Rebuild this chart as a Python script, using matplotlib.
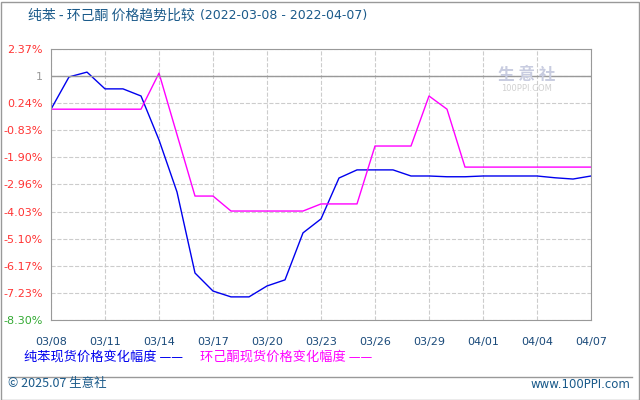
import matplotlib
matplotlib.use("Agg")
import matplotlib.pyplot as plt

plt.rcParams['font.family'] = ['Noto Sans CJK SC', 'DejaVu Sans']

days = list(range(31))
benzene = [0.0, 1.27, 1.46, 0.80, 0.80, 0.52, -1.21, -3.26, -6.45, -7.16, -7.39, -7.39,
           -6.96, -6.72, -4.87, -4.32, -2.71, -2.39, -2.39, -2.39, -2.63, -2.63, -2.66,
           -2.66, -2.63, -2.63, -2.63, -2.63, -2.70, -2.75, -2.63]
cyclohexanone = [0.0, 0.0, 0.0, 0.0, 0.0, 0.0, 1.42, -1.0, -3.42, -3.42, -4.01, -4.01,
                 -4.01, -4.01, -4.01, -3.73, -3.73, -3.73, -1.45, -1.45, -1.45, 0.52, 0.0,
                 -2.28, -2.28, -2.28, -2.28, -2.28, -2.28, -2.28, -2.28]
xlabels = ['03/08', '03/11', '03/14', '03/17', '03/20', '03/23', '03/26', '03/29', '04/01', '04/04', '04/07']
ylabels = ['2.37%', '1', '0.24%', '-0.83%', '-1.90%', '-2.96%', '-4.03%', '-5.10%', '-6.17%', '-7.23%', '-8.30%']
yvals = [2.37, 1.30, 0.24, -0.83, -1.90, -2.96, -4.03, -5.10, -6.17, -7.23, -8.30]
ycolors = ['#ff3333', '#999999'] + ['#ff3333'] * 8 + ['#33aa33']

fig = plt.figure(figsize=(6.4, 4.0), dpi=100)
ax = fig.add_axes([51/640, 1-320/400, 540/640, 271/400])
ax.plot(days, benzene, color='#0000ee', lw=1)
ax.plot(days, cyclohexanone, color='#ff00ff', lw=1)
ax.set_xlim(0, 30)
ax.set_ylim(-8.30, 2.37)
ax.set_xticks(range(0, 31, 3))
ax.set_xticklabels(xlabels, fontsize=8, color='#1a4a7a', family=['DejaVu Sans'])
ax.set_yticks(yvals)
ax.set_yticklabels(ylabels, fontsize=8, family=['DejaVu Sans'])
for t, c in zip(ax.get_yticklabels(), ycolors):
    t.set_color(c)
ax.tick_params(length=0, pad=6)
ax.tick_params(axis='x', pad=12)
ax.grid(True, ls='--', color='#cccccc', lw=0.8)
ax.axhline(1.30, color='#999999', lw=1)
for s in ax.spines.values():
    s.set_color('#999999')
ax.text(0.88, 0.905, '生 意 社', transform=ax.transAxes, fontsize=12, color='#c8cce0',
        ha='center', va='center', weight='bold')
ax.text(0.88, 0.855, '100PPI.COM', transform=ax.transAxes, fontsize=6, color='#d0d0d0',
        ha='center', va='center', family=['DejaVu Sans'])

fig.text(28/640, 1-16/400, '纯苯 - 环己酮 价格趋势比较', fontsize=10, color='#1a5a8a', va='center')
fig.text(200/640, 1-16/400, '(2022-03-08 - 2022-04-07)', fontsize=9, color='#1a5a8a', va='center',
         family=['DejaVu Sans'])
fig.text(24/640, 1-357/400, '纯苯现货价格变化幅度 —— ', fontsize=9.5, color='#0000ee', va='center')
fig.text(200/640, 1-357/400, '环己酮现货价格变化幅度 ——', fontsize=9.5, color='#ff00ff', va='center')
fig.add_artist(plt.Line2D([8/640, 632/640], [1-377/400]*2, color='#999999', lw=1))
fig.text(8/640, 1-384/400, '© 2025.07 生意社', fontsize=9, color='#1a5a8a', va='center')
fig.text(630/640, 1-384/400, 'www.100PPI.com', fontsize=8.5, color='#1a5a8a', va='center', ha='right',
         family=['DejaVu Sans'])
fig.add_artist(plt.Rectangle((0.5/640, 0.5/400), 638/640, 398/400, fill=False, ec='#999999', lw=1))
fig.savefig('out.png', dpi=100)
